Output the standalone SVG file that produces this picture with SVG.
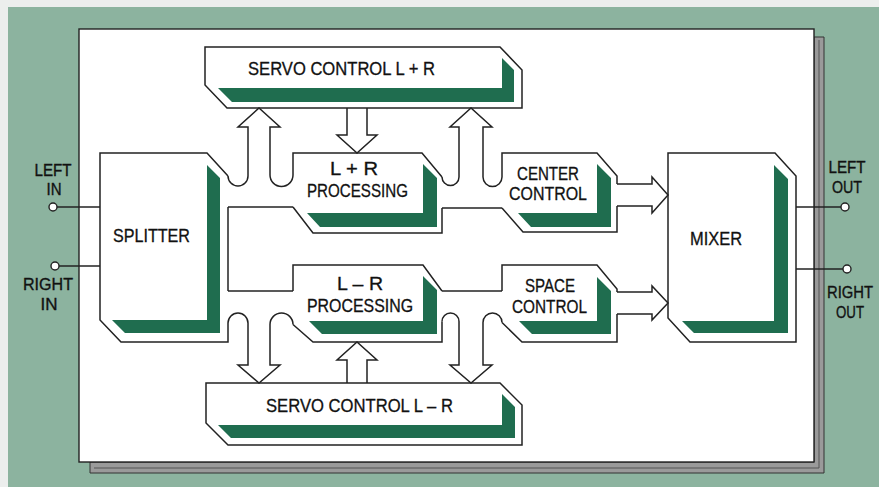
<svg xmlns="http://www.w3.org/2000/svg" width="879" height="487" viewBox="0 0 879 487">
<style>
.ln{fill:none;stroke:#222;stroke-width:1.5;stroke-linejoin:miter}
.sh{fill:#1f6d4f}
.t{font-family:"Liberation Sans",Arial,sans-serif;font-size:18px;fill:#111;stroke:#111;stroke-width:0.3}
.tt{font-family:"Liberation Sans",Arial,sans-serif;font-size:17px;fill:#111;stroke:#111;stroke-width:0.35;text-anchor:middle}
.term{fill:#fff;stroke:#222;stroke-width:1.4}
</style>
<rect x="0" y="0" width="879" height="487" fill="#eceeed"/>
<rect x="8" y="7" width="871" height="480" fill="#8cb39f"/>
<g id="panel">
<path d="M814,37 L824,37 L824,473 L90,473 L90,462 L814,462 Z" fill="#9a9a9a" stroke="#333" stroke-width="1"/>
<line x1="819" y1="40" x2="819" y2="468" stroke="#555" stroke-width="1"/>
<line x1="94" y1="468" x2="819" y2="468" stroke="#555" stroke-width="1"/>
<rect x="79" y="29" width="735" height="433" fill="#fff" stroke="#222" stroke-width="1.4"/>
</g>
<g id="left-in">
<line class="ln" x1="57" y1="207" x2="100" y2="207"/>
<circle class="term" cx="53" cy="207" r="4"/>
<text class="tt" x="53" y="176" textLength="37" lengthAdjust="spacingAndGlyphs">LEFT</text>
<text class="tt" x="54" y="195" textLength="15" lengthAdjust="spacingAndGlyphs">IN</text>
</g>
<g id="right-in">
<line class="ln" x1="59" y1="266" x2="100" y2="266"/>
<circle class="term" cx="55" cy="266" r="4"/>
<text class="tt" x="48" y="290" textLength="50" lengthAdjust="spacingAndGlyphs">RIGHT</text>
<text class="tt" x="49" y="310" textLength="17" lengthAdjust="spacingAndGlyphs">IN</text>
</g>
<g id="left-out">
<line class="ln" x1="796" y1="207" x2="841" y2="207"/>
<circle class="term" cx="845" cy="207" r="4"/>
<text class="tt" x="847" y="173" textLength="37" lengthAdjust="spacingAndGlyphs">LEFT</text>
<text class="tt" x="847" y="193" textLength="30" lengthAdjust="spacingAndGlyphs">OUT</text>
</g>
<g id="right-out">
<line class="ln" x1="796" y1="269" x2="843" y2="269"/>
<circle class="term" cx="847" cy="269" r="4"/>
<text class="tt" x="850" y="298" textLength="46" lengthAdjust="spacingAndGlyphs">RIGHT</text>
<text class="tt" x="850" y="318" textLength="28" lengthAdjust="spacingAndGlyphs">OUT</text>
</g>
<g id="splitter">
<polygon class="sh" points="207,165 220,178 220,333 125,333 112,320 207,320"/>
<path class="ln" d="M228,176 L207,153 L100,153 L100,320 L121,342 L228,342 L228,323"/>
<path class="ln" d="M228,207 L228,291"/>
<text class="t" x="113" y="242" textLength="77" lengthAdjust="spacingAndGlyphs">SPLITTER</text>
</g>
<g id="servo-lr-plus">
<polygon class="sh" points="502,58 514,70 514,102 232,102 218,88 502,88"/>
<path class="ln" d="M227,108 L205,85 L205,47 L500,47 L522,70 L522,108 Z"/>
<text class="t" x="248" y="75" textLength="187" lengthAdjust="spacingAndGlyphs">SERVO CONTROL L + R</text>
</g>
<g id="lr-plus-processing">
<polygon class="sh" points="423,164 437,178 437,227 320,227 307,213 423,213"/>
<path class="ln" d="M293,175 L293,153 L422,153 L442,177"/>
<path class="ln" d="M442,208 L442,233 L313,233 L293,207"/>
<text class="t" x="330" y="175" textLength="48" lengthAdjust="spacingAndGlyphs">L + R</text>
<text class="t" x="307" y="197" textLength="101" lengthAdjust="spacingAndGlyphs">PROCESSING</text>
</g>
<g id="center-control">
<polygon class="sh" points="597,164 611,178 611,227 531,227 518,213 597,213"/>
<path class="ln" d="M502,177 L502,153 L597,153 L617,176 L617,184"/>
<path class="ln" d="M617,206 L617,232 L523,232 L502,208"/>
<text class="t" x="517" y="180" textLength="62" lengthAdjust="spacingAndGlyphs">CENTER</text>
<text class="t" x="509" y="200" textLength="78" lengthAdjust="spacingAndGlyphs">CONTROL</text>
</g>
<g id="mixer">
<polygon class="sh" points="774,165 788,179 788,333 694,333 682,321 774,321"/>
<path class="ln" d="M668,153 L775,153 L796,176 L796,342 L690,342 L668,318 Z"/>
<text class="t" x="690" y="245" textLength="52" lengthAdjust="spacingAndGlyphs">MIXER</text>
</g>
<g id="lr-minus-processing">
<polygon class="sh" points="423,276 437,290 437,334 322,334 309,321 423,321"/>
<path class="ln" d="M293,291 L293,265 L423,265 L442,291"/>
<path class="ln" d="M293,324.5 L313,342 L442,342 L442,321.5"/>
<text class="t" x="337" y="290" textLength="46" lengthAdjust="spacingAndGlyphs">L – R</text>
<text class="t" x="307" y="312" textLength="106" lengthAdjust="spacingAndGlyphs">PROCESSING</text>
</g>
<g id="space-control">
<polygon class="sh" points="597,277 611,291 611,334 532,334 519,321 597,321"/>
<path class="ln" d="M502,291 L502,265 L597,265 L617,289 L617,292"/>
<path class="ln" d="M617,314 L617,342 L522,342 L502,322.5"/>
<text class="t" x="525" y="292" textLength="50" lengthAdjust="spacingAndGlyphs">SPACE</text>
<text class="t" x="512" y="313" textLength="75" lengthAdjust="spacingAndGlyphs">CONTROL</text>
</g>
<g id="servo-lr-minus">
<polygon class="sh" points="502,394 515,407 515,438 231,438 218,425 502,425"/>
<path class="ln" d="M206,383 L500,383 L522,405 L522,445 L228,445 L206,423 Z"/>
<text class="t" x="266" y="412" textLength="187" lengthAdjust="spacingAndGlyphs">SERVO CONTROL L – R</text>
</g>
<g id="connectors">
<path class="ln" d="M228,176 A10,10 0 0 0 248,176 L248,127 L238,127 L259,108 L280,127 L270,127 L270,175 A11.5,11.5 0 0 0 293,175"/>
<path class="ln" d="M347,108 L347,135 L337,135 L357,153 L377,135 L367,135 L367,108"/>
<path class="ln" d="M442,177 A8.5,8.5 0 0 0 459,177 L459,127 L450,127 L471,108 L492,127 L483,127 L483,177 A9.5,9.5 0 0 0 502,177"/>
<path class="ln" d="M228,207 L293,207"/>
<path class="ln" d="M442,208 L502,208"/>
<path class="ln" d="M617,184 L652,184 L652,177 L668,195 L652,213 L652,206 L617,206"/>
<path class="ln" d="M228,323 A10,10 0 0 1 248,323 L248,365 L238,365 L259,383 L280,365 L270,365 L270,324.5 A11.5,11.5 0 0 1 293,324.5"/>
<path class="ln" d="M347,383 L347,360 L337,360 L357,342 L377,360 L367,360 L367,383"/>
<path class="ln" d="M442,321.5 A8.5,8.5 0 0 1 459,321.5 L459,365 L450,365 L471,383 L492,365 L483,365 L483,322.5 A9.5,9.5 0 0 1 502,322.5"/>
<path class="ln" d="M228,291 L293,291"/>
<path class="ln" d="M442,291 L502,291"/>
<path class="ln" d="M617,292 L652,292 L652,286 L668,303 L652,320 L652,314 L617,314"/>
</g>
</svg>
